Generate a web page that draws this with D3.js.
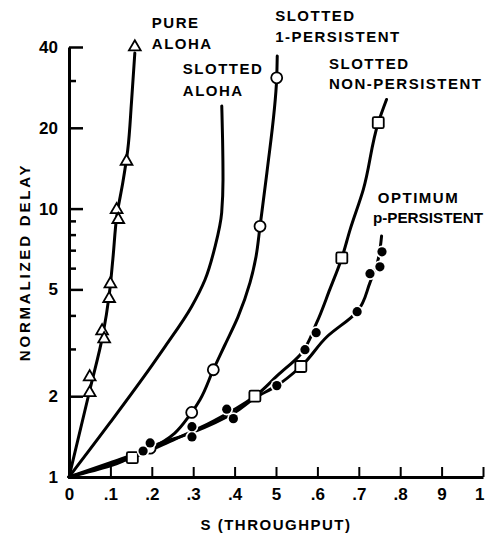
<!DOCTYPE html>
<html><head><meta charset="utf-8">
<script src="https://cdn.jsdelivr.net/npm/d3@7"></script>
<style>
html,body{margin:0;padding:0;background:#fff;}
svg{display:block;}
text{font-family:"Liberation Sans",Arial,sans-serif;font-weight:bold;fill:#000;}
</style></head>
<body>
<svg id="chart" width="485" height="545"></svg>
<script>
// ---- data ----
const xTickValues = [0, 0.1, 0.2, 0.3, 0.4, 0.5, 0.6, 0.7, 0.8, 0.9, 1];
const xTickLabels = ["0", ".1", ".2", ".3", ".4", "5", ".6", ".7", ".8", "9", "1"];
const yMajorTicks = [1, 2, 5, 10, 20, 40];
const yMinorTicks = [3, 4, 6, 7, 8, 9, 30];

// analytic curves (S, delay)
const pureAlohaS = [0, 0.05, 0.082, 0.097, 0.106, 0.116, 0.13, 0.142, 0.151, 0.159];
const pureAlohaD = [1, 2.1, 3.4, 4.75, 6.5, 9.5, 12.5, 16.6, 25, 38];
const slottedAlohaS = [0, 0.1, 0.2, 0.232, 0.296, 0.3285, 0.3527, 0.3688, 0.372, 0.371, 0.369];
const slottedAlohaD = [1, 1.6, 2.6, 3.06, 4.31, 5.43, 7.21, 9.67, 12.8, 18, 24.1];
const onePersS = [0, 0.1, 0.196, 0.2964, 0.3164, 0.3486, 0.3768, 0.4082, 0.4372, 0.4517, 0.4614, 0.478, 0.5017, 0.503];
const onePersD = [1, 1.13, 1.28, 1.74, 1.94, 2.51, 3.11, 3.95, 5.3, 6.62, 8.59, 13.6, 30.7, 37];
const nonPersS = [0, 0.153, 0.25, 0.35, 0.449, 0.505, 0.558, 0.598, 0.63, 0.659, 0.679, 0.711, 0.747, 0.767];
const nonPersD = [1, 1.18, 1.37, 1.62, 2.0, 2.4, 2.85, 3.75, 5.0, 6.55, 8.35, 11.8, 20.9, 25.5];
const pPersS = [0, 0.1, 0.2, 0.3, 0.4, 0.449, 0.502, 0.56, 0.623, 0.696, 0.727, 0.745, 0.755];
const pPersD = [1, 1.1, 1.3, 1.47, 1.74, 1.97, 2.19, 2.58, 3.33, 4.13, 5.3, 6.3, 7.9];

// simulation markers (S, delay)
const triS = [0.05, 0.05, 0.08, 0.085, 0.097, 0.1, 0.115, 0.119, 0.139, 0.159];
const triD = [2.06, 2.36, 3.5, 3.27, 4.62, 5.24, 9.9, 9.1, 15, 40];
const circS = [0.196, 0.2964, 0.3486, 0.4614, 0.5017];
const circD = [1.28, 1.74, 2.51, 8.59, 30.7];
const sqS = [0.153, 0.449, 0.56, 0.659, 0.747];
const sqD = [1.18, 2.0, 2.58, 6.55, 20.9];
const dotS = [0.179, 0.196, 0.297, 0.297, 0.381, 0.397, 0.502, 0.57, 0.597, 0.696, 0.727, 0.751, 0.756];
const dotD = [1.25, 1.34, 1.54, 1.41, 1.79, 1.65, 2.19, 2.98, 3.45, 4.13, 5.72, 6.07, 6.9];

// curve labels: lines of text, anchored at (S, delay) of first-letter baseline
const labelText = ["PURE", "ALOHA", "SLOTTED", "ALOHA", "SLOTTED", "1-PERSISTENT", "SLOTTED", "NON-PERSISTENT", "OPTIMUM", "p-PERSISTENT"];
const labelS = [0.200, 0.200, 0.275, 0.275, 0.498, 0.498, 0.628, 0.628, 0.746, 0.734];
const labelD = [47.0, 39.2, 31.6, 26.2, 49.9, 41.6, 33.0, 28.0, 10.5, 8.87];

const xTitle = "S (THROUGHPUT)";
const yTitle = "NORMALIZED DELAY";

// ---- drawing ----
const W = 485;
const svg = d3.select("#chart");
const x = d3.scaleLinear().domain([0, 1]).range([69, 483]);
const y = d3.scaleLog().domain([1, 40]).range([477, 47]);

const zip = (a, b) => a.map((v, i) => [v, b[i]]);
// delay increases monotonically along each curve: interpolate S as a function of delay
const line = d3.line().x(d => x(d[0])).y(d => y(d[1])).curve(d3.curveMonotoneY);

const curves = [
  zip(pureAlohaS, pureAlohaD),
  zip(slottedAlohaS, slottedAlohaD),
  zip(onePersS, onePersD),
  zip(nonPersS, nonPersD),
  zip(pPersS, pPersD)
].map(c => c.slice().reverse()); // top-down so pixel y increases
svg.append("g").selectAll("path").data(curves).join("path")
  .attr("d", line).attr("fill", "none").attr("stroke", "#000")
  .attr("stroke-width", 3).attr("stroke-linecap", "round");

// axes
const xAxis = d3.axisBottom(x).tickValues(xTickValues)
  .tickFormat((d, i) => xTickLabels[i]).tickSizeInner(-10).tickSizeOuter(0).tickPadding(11);
const gx = svg.append("g").attr("transform", `translate(0,${y(1)})`).call(xAxis);
gx.select(".domain").attr("stroke-width", 3);
gx.selectAll(".tick line").attr("stroke-width", 2);
gx.selectAll("text").attr("font-size", 17).attr("font-family", "Liberation Sans, Arial, sans-serif").attr("font-weight", "bold");
gx.selectAll(".tick").filter(d => d === 1).select("text").attr("text-anchor", "end").attr("x", 1);

const yAxis = d3.axisLeft(y).tickValues(yMajorTicks).tickFormat(d3.format("d"))
  .tickSizeInner(-14).tickSizeOuter(0).tickPadding(11);
const gy = svg.append("g").attr("transform", `translate(${x(0)},0)`).call(yAxis);
gy.select(".domain").attr("stroke-width", 3);
gy.selectAll(".tick line").attr("stroke-width", 2.5);
gy.selectAll("text").attr("font-size", 17).attr("font-family", "Liberation Sans, Arial, sans-serif").attr("font-weight", "bold");

const yAxisMinor = d3.axisLeft(y).tickValues(yMinorTicks).tickFormat("")
  .tickSizeInner(-7).tickSizeOuter(0);
const gym = svg.append("g").attr("transform", `translate(${x(0)},0)`).call(yAxisMinor);
gym.select(".domain").remove();
gym.selectAll(".tick line").attr("stroke-width", 2.5);

// markers
const mk = svg.append("g");
const tri = d3.symbol().type(d3.symbolTriangle).size(60);
mk.selectAll("path.tri").data(zip(triS, triD)).join("path").attr("class", "tri")
  .attr("transform", d => `translate(${x(d[0])},${y(d[1])})`)
  .attr("d", tri).attr("fill", "#fff").attr("stroke", "#000").attr("stroke-width", 1.8);
mk.selectAll("circle.op").data(zip(circS, circD)).join("circle").attr("class", "op")
  .attr("cx", d => x(d[0])).attr("cy", d => y(d[1])).attr("r", 5.5)
  .attr("fill", "#fff").attr("stroke", "#000").attr("stroke-width", 1.8);
mk.selectAll("rect.sq").data(zip(sqS, sqD)).join("rect").attr("class", "sq")
  .attr("x", d => x(d[0]) - 5.5).attr("y", d => y(d[1]) - 5.5)
  .attr("width", 11).attr("height", 11).attr("rx", 1.5)
  .attr("fill", "#fff").attr("stroke", "#000").attr("stroke-width", 1.8);
mk.selectAll("circle.halo").data(zip(dotS, dotD)).join("circle").attr("class", "halo")
  .attr("cx", d => x(d[0])).attr("cy", d => y(d[1])).attr("r", 6.3).attr("fill", "#fff");
mk.selectAll("circle.dot").data(zip(dotS, dotD)).join("circle").attr("class", "dot")
  .attr("cx", d => x(d[0])).attr("cy", d => y(d[1])).attr("r", 4.6).attr("fill", "#000");

// curve labels
const labels = svg.append("g").selectAll("text").data(labelText).join("text")
  .attr("x", (d, i) => x(labelS[i])).attr("y", (d, i) => y(labelD[i]))
  .attr("font-size", 15).attr("letter-spacing", 1.5)
  .text(d => d);
// keep every label inside the canvas
labels.each(function(d, i) {
  const el = d3.select(this);
  const x0 = x(labelS[i]);
  const len = this.getComputedTextLength();
  if (x0 + len > W - 2) {
    el.attr("letter-spacing", 0).attr("textLength", W - 2 - x0).attr("lengthAdjust", "spacingAndGlyphs");
  }
});

// axis titles
svg.append("text").attr("x", (x(0) + x(1)) / 2).attr("y", 530)
  .attr("text-anchor", "middle").attr("font-size", 15).attr("letter-spacing", 1.5)
  .text(xTitle);
svg.append("text").attr("transform", `translate(30,${(y(1) + y(40)) / 2})rotate(-90)`)
  .attr("text-anchor", "middle").attr("font-size", 15).attr("letter-spacing", 2.8)
  .text(yTitle);
</script>
</body></html>
